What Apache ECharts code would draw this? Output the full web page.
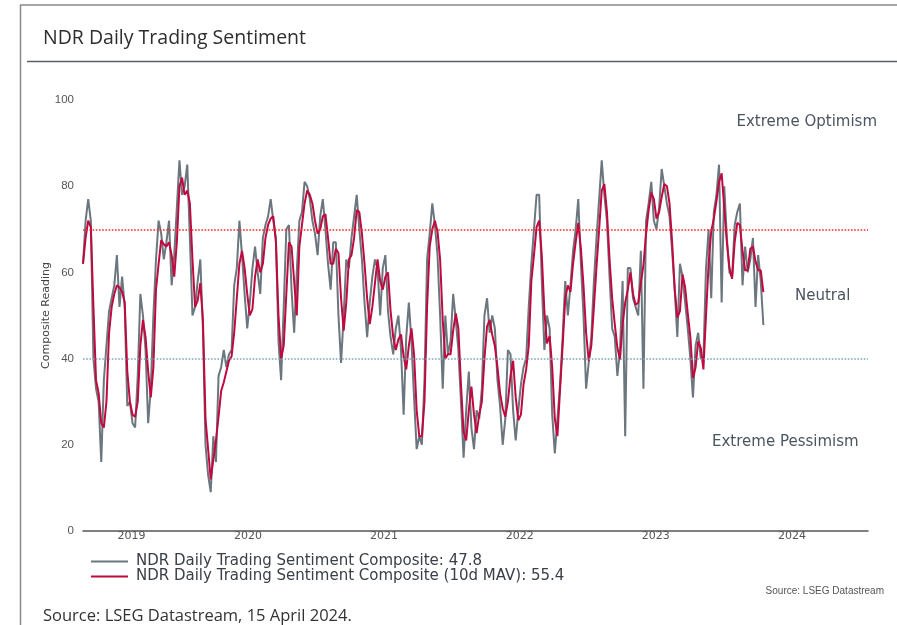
<!DOCTYPE html>
<html><head><meta charset="utf-8">
<script src="https://cdn.jsdelivr.net/npm/echarts@6/dist/echarts.min.js"></script>
<style>html,body{margin:0;padding:0;background:#fff}#c{width:897px;height:625px}</style>
</head><body><div id="c"></div>
<script>
// Weekly readings, first one on 15 April 2019, last one on 15 April 2024
const startDate = Date.UTC(2019, 3, 15);
const stepDays = 7;

const composite = [
  62, 72, 77, 72, 40, 33, 30, 16, 35, 43,
  51, 54, 57, 64, 52, 59, 52, 29, 30, 25,
  24, 36, 55, 50, 42, 25, 33, 50, 63, 72,
  69, 63, 67, 72, 57, 64, 75, 86, 78, 80,
  85, 68, 50, 52, 58, 63, 47, 20, 13, 9,
  22, 16, 36, 38, 42, 38, 41, 42, 57, 61,
  72, 64, 55, 47, 53, 61, 66, 60, 55, 68,
  71, 73, 77, 72, 68, 44, 35, 52, 70, 71,
  56, 46, 60, 72, 74, 81, 80, 77, 72, 69,
  64, 73, 77, 70, 62, 56, 67, 67, 50, 39,
  50, 63, 61, 68, 73, 78, 70, 63, 53, 45,
  53, 59, 63, 61, 50, 61, 64, 51, 45, 41,
  47, 50, 42, 27, 45, 53, 44, 31, 19, 22,
  20, 35, 63, 69, 76, 71, 64, 50, 33, 50,
  41, 44, 55, 49, 42, 30, 17, 28, 37, 24,
  19, 28, 26, 33, 50, 54, 46, 50, 47, 35,
  29, 20, 26, 42, 41, 28, 21, 28, 34, 38,
  40, 52, 62, 70, 78, 78, 58, 42, 50, 47,
  27, 18, 26, 34, 45, 58, 50, 57, 65, 70,
  77, 62, 50, 33, 39, 45, 58, 68, 77, 86,
  78, 72, 59, 47, 45, 36, 42, 58, 22, 61,
  61, 54, 52, 50, 65, 33, 72, 76, 81, 72,
  70, 75, 84, 80, 76, 73, 65, 56, 45, 62,
  59, 53, 47, 40, 31, 43, 46, 40, 40, 61,
  70, 54, 74, 78, 85, 53, 80, 68, 60, 59,
  71, 74, 76, 57, 66, 60, 63, 68, 52, 64,
  58, 47.8
];

const composite10d = [
  62, 68, 72, 70.5, 52, 35, 32, 25, 24, 30,
  46, 52, 55, 57, 56.5, 55.5, 53, 37, 30, 27,
  26.5, 30, 43, 49, 45, 37, 31, 38, 56, 62,
  67.5, 66.5, 66, 67, 64, 59, 67, 80, 82, 78,
  79, 76, 63, 52, 53.5, 57.5, 49, 26, 19, 12,
  16.6, 21, 26.5, 32.5, 34.5, 37, 39.5, 40.5, 46, 54,
  62, 65, 61, 55, 50, 51.5, 59, 63, 60, 62,
  68, 71, 72.5, 73, 67, 50, 40, 43, 55, 67,
  66, 58, 50, 66, 71, 76, 79, 78, 76, 72,
  69, 70, 73, 73.5, 68, 62, 62, 65.5, 64.5, 54,
  46.5, 53, 63, 64, 68, 74.5, 74, 69, 62, 54,
  48, 52, 57.5, 63, 58, 56, 59, 60, 51, 45,
  42, 44.5, 45.6, 40.5, 37.5, 43, 47, 41, 28, 22,
  22, 30, 52, 66, 70, 72, 69.5, 63, 49, 40,
  41, 41, 46.5, 50.5, 47, 34, 23, 21, 28, 33.5,
  27, 22.7, 27, 30, 40, 47.5, 49, 45.5, 42.9, 38,
  32, 28.5, 26.5, 30, 36, 39.5, 31, 25.7, 27, 34,
  37.5, 43, 58, 64, 70.5, 72, 64, 51, 43.5, 45.2,
  38, 26, 22, 32.8, 43, 54, 57, 55.5, 62, 67,
  71.5, 65.5, 57, 46, 39.5, 43, 52, 61.4, 70, 79,
  80.5, 74, 63, 54, 48, 42.5, 39.8, 48, 53, 56,
  60, 55, 52.5, 53, 57.5, 61.7, 69, 74.5, 78.5, 77,
  72.5, 74, 77.5, 80.5, 80, 76, 67, 56, 49.5, 51,
  59.5, 56.5, 50.5, 45, 35.5, 38, 44, 42.5, 37.5, 50,
  62, 69.5, 72.5, 76.5, 81, 83, 75, 67, 61, 58.5,
  67, 71.5, 71, 65, 60.5, 60.5, 65.5, 66, 62.5, 60.5,
  60.5, 55.4
];

const yearLabelDates = ['2019-08-23', '2020-07-01', '2021-07-01', '2022-07-01', '2023-07-01', '2024-07-01'];
const axisStart = '2019-04-15';
const axisEnd = '2025-01-21';
const yTicks = [0, 20, 40, 60, 80, 100];
const optimismLevel = 70;
const pessimismLevel = 40;

const toMs = s => { const p = s.split('-').map(Number); return Date.UTC(p[0], p[1] - 1, p[2]); };
const dayMs = 86400000;
const asSeries = arr => arr.map((v, i) => [startDate + i * stepDays * dayMs, v]);

const nameRaw = 'NDR Daily Trading Sentiment Composite: ' + composite[composite.length - 1];
const nameMav = 'NDR Daily Trading Sentiment Composite (10d MAV): ' + composite10d[composite10d.length - 1];

const txt = '#4b5560';
const chart = echarts.init(document.getElementById('c'));
chart.setOption({
  animation: false,
  backgroundColor: '#fff',
  grid: { left: 83, right: 29, top: 100, bottom: 94 },
  xAxis: {
    type: 'value',
    min: toMs(axisStart),
    max: toMs(axisEnd),
    axisLine: { show: true, lineStyle: { color: '#555', width: 1.5 } },
    axisTick: { show: false },
    splitLine: { show: false },
    axisLabel: {
      customValues: yearLabelDates.map(toMs),
      formatter: v => String(new Date(v).getUTCFullYear()),
      color: '#555', fontFamily: 'DejaVu Sans', fontSize: 11, margin: 0
    }
  },
  yAxis: {
    type: 'value', min: yTicks[0], max: yTicks[yTicks.length - 1], interval: yTicks[1] - yTicks[0],
    name: 'Composite Reading', nameLocation: 'middle', nameGap: 31, nameRotate: 90, nameMoveOverlap: false,
    nameTextStyle: { color: '#444', fontFamily: 'DejaVu Sans', fontSize: 11 },
    axisLine: { show: false }, axisTick: { show: false }, splitLine: { show: false },
    axisLabel: { color: '#555', fontFamily: 'Liberation Sans', fontSize: 11.5, margin: 9 }
  },
  legend: {
    orient: 'vertical', left: 86, top: 549, itemGap: 0,
    itemWidth: 37, itemHeight: 2, icon: 'rect',
    data: [nameRaw, nameMav],
    textStyle: { color: '#3a4048', fontFamily: 'DejaVu Sans', fontSize: 15, lineHeight: 15, padding: [0, 0, 0, 3] }
  },
  series: [
    {
      name: nameRaw, type: 'line', data: asSeries(composite), showSymbol: false, symbol: 'none',
      lineStyle: { color: '#6b767e', width: 2 }, itemStyle: { color: '#6b767e' }, z: 2,
      markLine: {
        silent: true, symbol: 'none', label: { show: false },
        data: [
          { yAxis: optimismLevel, lineStyle: { color: '#ff2b2b', type: 'dotted', width: 1.6 } },
          { yAxis: pessimismLevel, lineStyle: { color: '#7fa5b6', type: 'dotted', width: 1.6 } }
        ]
      }
    },
    {
      name: nameMav, type: 'line', data: asSeries(composite10d), showSymbol: false, symbol: 'none',
      lineStyle: { color: '#c0093f', width: 2 }, itemStyle: { color: '#c0093f' }, z: 3
    }
  ],
  graphic: [
    { type: 'line', shape: { x1: 20.5, y1: 5, x2: 20.5, y2: 625 }, style: { stroke: '#8a8a8a', lineWidth: 1.5 } },
    { type: 'line', shape: { x1: 20, y1: 5, x2: 897, y2: 5 }, style: { stroke: '#8a8a8a', lineWidth: 1.5 } },
    { type: 'line', shape: { x1: 27, y1: 61.5, x2: 897, y2: 61.5 }, style: { stroke: '#5a6168', lineWidth: 1.5 } },
    { type: 'text', left: 43, top: 28, style: { text: 'NDR Daily Trading Sentiment', fill: '#2e2e2e', font: '19.5px "Open Sans"' } },
    { type: 'text', right: 20, top: 115, style: { text: 'Extreme Optimism', fill: txt, font: '15px "DejaVu Sans"' } },
    { type: 'text', left: 795, top: 289, style: { text: 'Neutral', fill: txt, font: '15px "DejaVu Sans"' } },
    { type: 'text', left: 712, top: 435, style: { text: 'Extreme Pessimism', fill: txt, font: '15px "DejaVu Sans"' } },
    { type: 'text', right: 13, top: 586, style: { text: 'Source: LSEG Datastream', fill: '#555', font: '10px "Liberation Sans"' } },
    { type: 'text', left: 43, top: 608, style: { text: 'Source: LSEG Datastream, 15 April 2024.', fill: '#333', font: '16.5px "Open Sans"' } }
  ]
});
</script></body></html>
